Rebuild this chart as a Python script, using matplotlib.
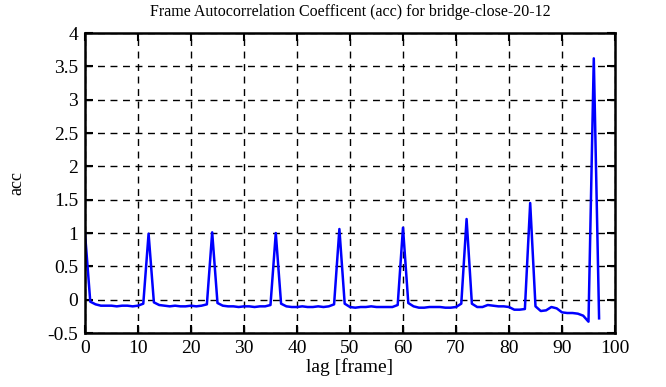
import numpy as np
import matplotlib.pyplot as plt

plt.rcParams['font.family'] = ['Liberation Serif', 'DejaVu Serif']

# autocorrelation, one value per lag (frames 0..97)
lags = list(range(98))
acc = [
    1.00, -0.03, -0.07, -0.09, -0.09, -0.09, -0.10, -0.09, -0.09, -0.10,
    -0.09, -0.06, 0.99, -0.04, -0.08, -0.09, -0.10, -0.09, -0.10, -0.10,
    -0.09, -0.10, -0.09, -0.07, 1.01, -0.05, -0.09, -0.10, -0.10, -0.11,
    -0.10, -0.10, -0.11, -0.10, -0.10, -0.08, 1.00, -0.06, -0.10, -0.11,
    -0.11, -0.10, -0.11, -0.11, -0.10, -0.11, -0.10, -0.07, 1.06, -0.06,
    -0.11, -0.12, -0.11, -0.11, -0.10, -0.11, -0.11, -0.11, -0.11, -0.08,
    1.08, -0.05, -0.10, -0.12, -0.12, -0.11, -0.11, -0.11, -0.12, -0.12,
    -0.11, -0.06, 1.21, -0.06, -0.11, -0.11, -0.08, -0.09, -0.10, -0.10,
    -0.11, -0.15, -0.15, -0.14, 1.45, -0.10, -0.17, -0.16, -0.11, -0.13,
    -0.19, -0.20, -0.20, -0.21, -0.24, -0.33, 3.62, -0.28,
]

xticks = list(range(0, 101, 10))
yticks = [-0.5, 0, 0.5, 1, 1.5, 2, 2.5, 3, 3.5, 4]
ytick_labels = ['-0.5', '0', '0.5', '1', '1.5', '2', '2.5', '3', '3.5', '4']

fig = plt.figure(figsize=(6.66, 3.87), dpi=100)
ax = fig.add_axes([0.1276, 0.1395, 0.7958, 0.7752])

ax.plot(lags, acc, color='#0000ff', linewidth=1.8)

ax.set_xlim(0, 100)
ax.set_ylim(-0.5, 4)
ax.set_xticks(xticks)
ax.set_yticks(yticks)
ax.set_yticklabels(ytick_labels)
ax.grid(True, color='black', linestyle=(0, (5, 4)), linewidth=1.0)
ax.tick_params(direction='in', length=6, width=1.5, top=True, right=True,
               labelsize=14, pad=5)
for s in ax.spines.values():
    s.set_linewidth(1.8)

ax.set_title('Frame Autocorrelation Coefficent (acc) for bridge-close-20-12',
             fontsize=11.5, pad=12)
ax.set_xlabel('lag [frame]', fontsize=14, labelpad=1)
ax.set_ylabel('acc', fontsize=13, labelpad=16)

fig.savefig('out.png', dpi=100)
